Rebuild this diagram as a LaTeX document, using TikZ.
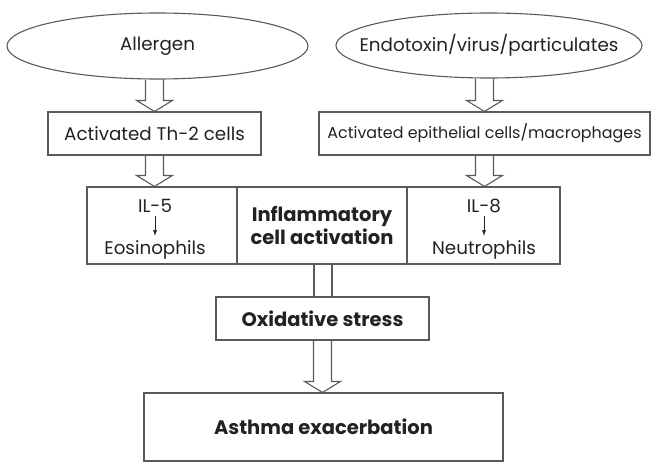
\documentclass[tikz,border=0pt]{standalone}
\usepackage{fontspec}
\setmainfont{Poppins}
\usetikzlibrary{shapes.geometric,calc,arrows.meta}
\tikzset{>=latex}

\definecolor{edge}{HTML}{5A5A5A}
\definecolor{ink}{HTML}{222222}

\tikzset{
  base/.style={draw=edge,line width=1.1pt,text=ink,inner sep=0pt},
  oval/.style={base,ellipse},
  cellbox/.style={base,rectangle},
  txt/.style={text=ink,inner sep=1pt},
  fat/.style={draw=edge,line width=1.1pt,line join=miter},
  normal/.style={font=\fontsize{18.3}{22}\selectfont},
  small/.style={font=\fontsize{15.9}{19}\selectfont},
  heavy/.style={font=\fontsize{19.5}{23}\selectfont\bfseries},
}

% block arrow: from #1 down to #2, along the x of #3
\newcommand\fatarrow[3]{%
  \draw[fat] let \p1=(#1.south), \p2=(#2.north), \p3=(#3.center) in
    (\x3-9pt,\y1) -- (\x3-9pt,\y2+11pt) -- (\x3-18pt,\y2+11pt) -- (\x3,\y2)
    -- (\x3+18pt,\y2+11pt) -- (\x3+9pt,\y2+11pt) -- (\x3+9pt,\y1);
}

\begin{document}
\begin{tikzpicture}[x=1pt,y=-1pt]
  \useasboundingbox (0,0) rectangle (654,471);

  % sources
  \node[oval,minimum width=301,minimum height=66] (allergen) at (157.5,46) {};
  \node[oval,minimum width=306,minimum height=65] (endotoxin) at (489,45.5) {};
  \node[txt,normal] (allergenText) at (allergen) {Allergen};
  \node[txt,normal] (endotoxinText) at (endotoxin) {Endotoxin/virus/particulates};

  % activated cells
  \node[cellbox,normal,minimum width=213,minimum height=43] (th2) at (154.5,133.5) {Activated Th-2 cells};
  \node[cellbox,small,minimum width=331,minimum height=43] (epi) at (484.5,133.5) {Activated epithelial cells/macrophages};

  % inflammatory row
  \node[cellbox,minimum width=150,minimum height=77] (cellL) at (162,225.5) {};
  \node[cellbox,heavy,align=center,minimum width=170,minimum height=77] (cellM) at (322,225.5) {Inflammatory\\cell activation};
  \node[cellbox,minimum width=153,minimum height=77] (cellR) at (483.5,225.5) {};

  \node[txt,normal,anchor=base] (il5) at (155,212) {IL-5};
  \node[txt,normal,anchor=base] (eos) at (155,254) {Eosinophils};
  \node[txt,normal,anchor=base] (il8) at (484,212) {IL-8};
  \node[txt,normal,anchor=base] (neu) at (484,254) {Neutrophils};
  \foreach \a/\b in {il5/eos,il8/neu} {
    \draw[-{Latex[length=6pt,width=4pt]},draw=ink,line width=0.6pt]
      ($(\a.base)+(0,4)$) -- ($(\b.base)+(0,-18)$);
  }

  % outcome
  \node[cellbox,heavy,minimum width=213,minimum height=43] (oxi) at (322.5,318.5) {Oxidative stress};
  \node[cellbox,heavy,minimum width=359,minimum height=68] (asthma) at (323.5,427) {Asthma exacerbation};

  % block arrows
  \fatarrow{allergen}{th2}{th2}
  \fatarrow{endotoxin}{epi}{epi}
  \fatarrow{th2}{cellL}{th2}
  \fatarrow{epi}{cellR}{epi}
  \draw[fat] let \p1=(cellM.south), \p2=(oxi.north) in
    (\x1-8pt,\y1) -- (\x1-8pt,\y2) (\x1+10pt,\y1) -- (\x1+10pt,\y2);
  \fatarrow{oxi}{asthma}{oxi}
\end{tikzpicture}
\end{document}
